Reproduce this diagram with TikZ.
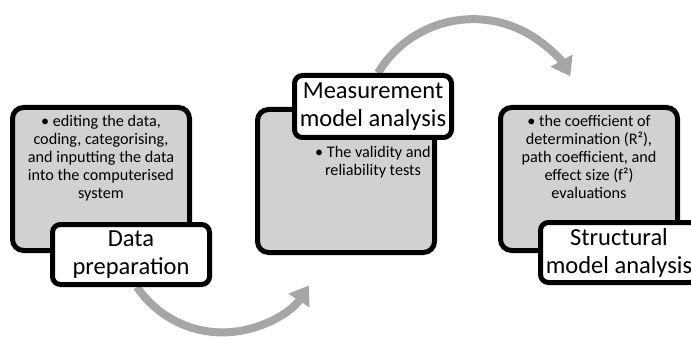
\documentclass[tikz,border=0pt]{standalone}
\usepackage{fontspec}
\setmainfont{Carlito}
\usetikzlibrary{arrows.meta,backgrounds}
\begin{document}
\begin{tikzpicture}[x=1pt,y=1pt,
  stagebox/.style={draw=black,line width=5pt,fill=black!18,rounded corners=11pt,
    minimum width=177pt,minimum height=143pt},
  stagetext/.style={align=center,inner sep=0pt,anchor=north,
    font=\fontsize{16.2}{18}\selectfont},
  stagelabel/.style={draw=black,line width=5pt,fill=white,rounded corners=8pt,
    minimum width=157pt,minimum height=60pt,align=center,inner sep=0pt,
    font=\fontsize{24.5}{28}\selectfont},
  flow/.style={draw=black!35,line width=8pt,-{Triangle[width=24pt,length=18pt]}}]
\useasboundingbox (0,0) rectangle (691,338);
% the three stages
\node[stagebox] (b1) at (101,159) {};
\node[stagebox] (b2) at (346,157) {};
\node[stagebox] (b3) at (589,159) {};
\node[stagelabel] (l1) at (131,83.5) {Data\\preparation};
\node[stagelabel,minimum height=62pt] (l2) at (373,231.5) {Measurement\\model analysis};
\node[stagelabel] (l3) at (619,85.5) {Structural\\model analysis};
\node[stagetext] (t1) at ([yshift=-10pt]b1.north) {\textbullet\ editing the data,\\coding, categorising,\\and inputting the data\\into the computerised\\system};
\node[stagetext] (t2) at ([yshift=-6pt]l2.south) {\textbullet\ The validity and\\reliability tests};
\node[stagetext] (t3) at ([yshift=-10pt]b3.north) {\textbullet\ the coefficient of\\determination (R²),\\path coefficient, and\\effect size (f²)\\evaluations};
% arrows between the stages
\begin{scope}[on background layer]
\draw[flow] ([xshift=6pt]l1.south) arc[start angle=214, end angle=327, radius=103];
\draw[flow] ([xshift=5pt]l2.north) arc[start angle=149, end angle=29, radius=111];
\end{scope}
\end{tikzpicture}
\end{document}
